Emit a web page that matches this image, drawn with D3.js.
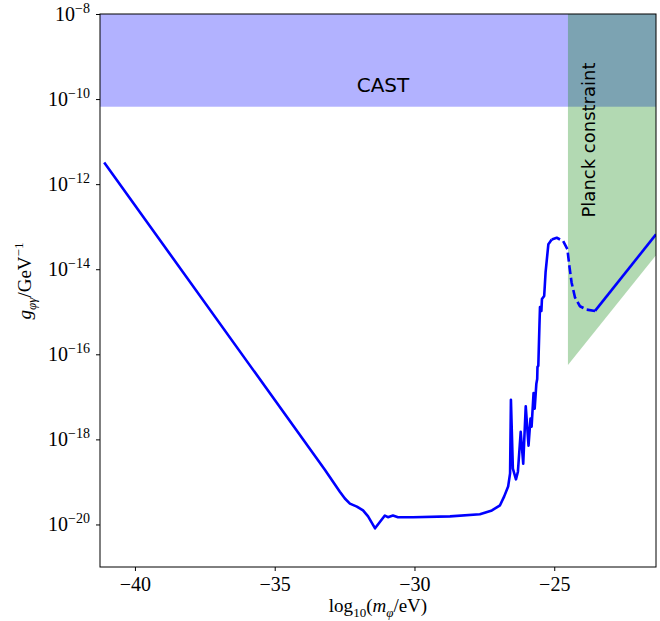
<!DOCTYPE html>
<html>
<head>
<meta charset="utf-8">
<script src="https://cdn.jsdelivr.net/npm/d3@7"></script>
<style>
  body { margin: 0; background: white; }
  .axis text { font-family: "Liberation Serif", serif; font-size: 20px; fill: black; }
  .axis line { stroke: black; }
  .etiqueta { font-family: "DejaVu Sans", sans-serif; font-size: 20px; fill: black; }
  .tituloEje { font-family: "Liberation Serif", serif; font-size: 19px; fill: black; }
</style>
</head>
<body>
<div id="grafico"></div>
<script>
// Datos: log10(m/eV) y log10(g/GeV^-1)
const masaTramo1 = [-41.10, -33.20, -32.67, -32.49, -32.31, -32.06, -31.84, -31.66, -31.41, -31.06, -30.95, -30.77, -30.59,
  -30.05, -28.73, -27.66, -27.23, -26.94, -26.79, -26.65, -26.58, -26.55, -26.48, -26.37, -26.30, -26.20, -26.11, -26.02,
  -25.92, -25.85, -25.81, -25.74, -25.70, -25.64, -25.61, -25.60, -25.57, -25.53, -25.51, -25.46, -25.44, -25.36, -25.31,
  -25.21, -25.09]
const gTramo1 = [-11.49, -18.72, -19.23, -19.39, -19.51, -19.58, -19.67, -19.81, -20.09, -19.79, -19.83, -19.79, -19.83,
  -19.83, -19.81, -19.76, -19.67, -19.55, -19.34, -19.11, -18.80, -17.07, -18.69, -18.94, -18.76, -17.82, -18.57, -17.22,
  -18.15, -17.51, -17.70, -16.91, -17.28, -16.69, -16.58, -16.30, -16.27, -15.33, -14.89, -14.98, -14.70, -14.63, -14.07,
  -13.41, -13.30]
const masaDiscontinua = [-25.09, -24.91, -24.68, -24.53, -24.46, -24.38, -24.26, -24.08, -23.84, -23.54]
const gDiscontinua = [-13.30, -13.26, -13.34, -13.53, -13.92, -14.31, -14.66, -14.87, -14.95, -14.98]
const masaTramo2 = [-23.54, -21.36]
const gTramo2 = [-14.98, -13.18]

// Regiones excluidas
const castLimite = -10.18
const planckMasa = [-24.51, -24.51, -21.36, -21.36]
const planckG = [-8, -16.25, -13.67, -8]

// Ejes
const xTicks = [-40, -35, -30, -25]
const yTicks = [-20, -18, -16, -14, -12, -10, -8]
const xDominio = [-41.25, -21.36]
const yDominio = [-21, -8]

const anchoTotal = 660
const altoTotal = 621
const margins = { top: 14, right: 4, bottom: 54, left: 100 }
const ancho = anchoTotal - margins.left - margins.right
const alto = altoTotal - margins.top - margins.bottom

const svg = d3.select("#grafico")
  .append("svg")
  .attr("width", anchoTotal)
  .attr("height", altoTotal)

const g = svg.append("g")
  .attr("transform", `translate(${margins.left}, ${margins.top})`)

const x = d3.scaleLinear().domain(xDominio).range([0, ancho])
const y = d3.scaleLog().domain(yDominio.map((e) => 10 ** e)).range([alto, 0])

// Clip para el area del grafico
svg.append("clipPath").attr("id", "area")
  .append("rect").attr("width", ancho).attr("height", alto)
const capa = g.append("g").attr("clip-path", "url(#area)")

// Banda CAST
capa.append("rect")
  .attr("x", 0)
  .attr("y", y(10 ** yDominio[1]))
  .attr("width", ancho)
  .attr("height", y(10 ** castLimite) - y(10 ** yDominio[1]))
  .attr("fill", "blue")
  .attr("fill-opacity", 0.3)

// Region Planck
capa.append("path")
  .datum(d3.zip(planckMasa, planckG))
  .attr("d", d3.line().x((d) => x(d[0])).y((d) => y(10 ** d[1])))
  .attr("fill", "green")
  .attr("fill-opacity", 0.3)

// Curva
const linea = d3.line().x((d) => x(d[0])).y((d) => y(10 ** d[1]))
const tramos = [
  { datos: d3.zip(masaTramo1, gTramo1), dash: null },
  { datos: d3.zip(masaDiscontinua, gDiscontinua), dash: "9,3.6" },
  { datos: d3.zip(masaTramo2, gTramo2), dash: null },
]
capa.selectAll(".curva")
  .data(tramos)
  .enter()
  .append("path")
  .attr("class", "curva")
  .attr("d", (d) => linea(d.datos))
  .attr("fill", "none")
  .attr("stroke", "blue")
  .attr("stroke-width", 2.6)
  .attr("stroke-linejoin", "round")
  .attr("stroke-dasharray", (d) => d.dash)

// Textos
g.append("text")
  .attr("class", "etiqueta")
  .attr("x", 283)
  .attr("y", 78)
  .attr("text-anchor", "middle")
  .text("CAST")

g.append("text")
  .attr("class", "etiqueta")
  .attr("transform", `translate(${495}, ${126}) rotate(-90)`)
  .attr("text-anchor", "middle")
  .style("font-size", "18px")
  .text("Planck constraint")

// Ejes
const xAxisGroup = g.append("g")
  .attr("class", "axis")
  .attr("transform", `translate(0, ${alto})`)
  .call(d3.axisBottom(x).tickValues(xTicks).tickSize(4).tickPadding(6).tickFormat((d) => "−" + Math.abs(d)))
xAxisGroup.select(".domain").remove()

const yAxisGroup = g.append("g")
  .attr("class", "axis")
  .call(d3.axisLeft(y).tickValues(yTicks.map((e) => 10 ** e)).tickSize(4).tickPadding(6).tickFormat(""))
yAxisGroup.select(".domain").remove()
yAxisGroup.selectAll(".tick text")
  .each(function (d) {
    const t = d3.select(this)
    t.append("tspan").text("10")
    t.append("tspan")
      .attr("dy", -8)
      .style("font-size", "14px")
      .text("−" + Math.abs(Math.round(Math.log10(d))))
  })

// Marco
g.append("rect")
  .attr("width", ancho)
  .attr("height", alto)
  .attr("fill", "none")
  .attr("stroke", "black")
  .attr("stroke-width", 1)

// Titulos de ejes
const xLabel = svg.append("text")
  .attr("class", "tituloEje")
  .attr("x", margins.left + 278)
  .attr("y", 612)
  .attr("text-anchor", "middle")
xLabel.append("tspan").text("log")
xLabel.append("tspan").attr("dy", 5).style("font-size", "13px").text("10")
xLabel.append("tspan").attr("dy", -5).text("(")
xLabel.append("tspan").style("font-style", "italic").text("m")
xLabel.append("tspan").attr("dy", 5).style("font-size", "13px").style("font-style", "italic").text("φ")
xLabel.append("tspan").attr("dy", -5).text("/eV)")

const yLabel = svg.append("text")
  .attr("class", "tituloEje")
  .attr("transform", "translate(31, 281) rotate(-90)")
  .attr("text-anchor", "middle")
yLabel.append("tspan").style("font-style", "italic").text("g")
yLabel.append("tspan").attr("dy", 5).style("font-size", "13px").style("font-style", "italic").text("φγ")
yLabel.append("tspan").attr("dy", -5).text("/GeV")
yLabel.append("tspan").attr("dy", -8).style("font-size", "13px").text("−1")
</script>
</body>
</html>
